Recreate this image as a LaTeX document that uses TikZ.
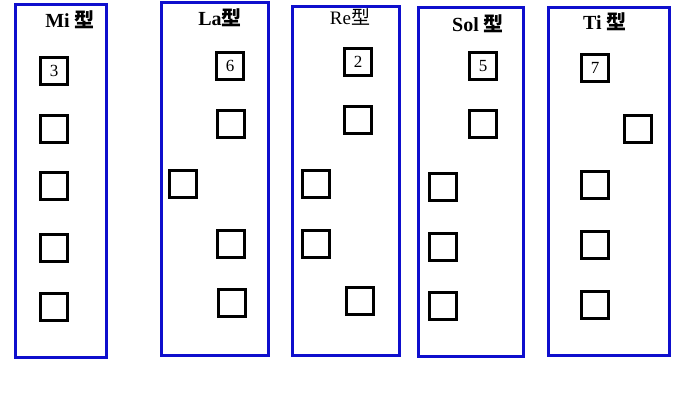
\documentclass[tikz,border=0pt]{standalone}
\usepackage{fontspec}
\setmainfont{Liberation Serif}
\newfontfamily\cjk{Noto Sans CJK SC}
\definecolor{panelblue}{RGB}{15,15,205}
\begin{document}
\begin{tikzpicture}[x=1pt,y=-1pt]
                \useasboundingbox (0,0) rectangle (690,406);
                \tikzset{frame/.style = {draw=panelblue,line width=3pt}}
                \tikzset{cell/.style = {shape=rectangle,draw,line width=2.3pt,minimum size=27pt,inner sep=0pt,font=\fontsize{17}{17}\selectfont}}
                \tikzset{title/.style = {font=\fontsize{20}{20}\selectfont\bfseries}}
                % panels
                \draw[frame] (15,5) rectangle (106,357);
                \draw[frame] (161,3) rectangle (268,355);
                \draw[frame] (292,7) rectangle (399,355);
                \draw[frame] (418,8) rectangle (523,356);
                \draw[frame] (548,8) rectangle (669,355);
                % titles
                \node[title] (mi) at (70,20) {Mi {\cjk 型}};
                \node[title] (la) at (220,18) {La{\cjk 型}};
                \node[font=\fontsize{19}{19}\selectfont] (re) at (350,17) {Re{\cjk 型}};
                \node[title] (sol) at (478,24) {Sol {\cjk 型}};
                \node[title] (ti) at (605,22) {Ti {\cjk 型}};
                % Mi
                \node[cell] (mi1) at (54,71) {3};
                \node[cell] (mi2) at (54,129) {};
                \node[cell] (mi3) at (54,186) {};
                \node[cell] (mi4) at (54,248) {};
                \node[cell] (mi5) at (54,307) {};
                % La
                \node[cell] (la1) at (230,66) {6};
                \node[cell] (la2) at (231,124) {};
                \node[cell] (la3) at (183,184) {};
                \node[cell] (la4) at (231,244) {};
                \node[cell] (la5) at (232,303) {};
                % Re
                \node[cell] (re1) at (358,62) {2};
                \node[cell] (re2) at (358,120) {};
                \node[cell] (re3) at (316,184) {};
                \node[cell] (re4) at (316,244) {};
                \node[cell] (re5) at (360,301) {};
                % Sol
                \node[cell] (sol1) at (483,66) {5};
                \node[cell] (sol2) at (483,124) {};
                \node[cell] (sol3) at (443,187) {};
                \node[cell] (sol4) at (443,247) {};
                \node[cell] (sol5) at (443,306) {};
                % Ti
                \node[cell] (ti1) at (595,68) {7};
                \node[cell] (ti2) at (638,129) {};
                \node[cell] (ti3) at (595,185) {};
                \node[cell] (ti4) at (595,245) {};
                \node[cell] (ti5) at (595,305) {};
            \end{tikzpicture}
\end{document}
